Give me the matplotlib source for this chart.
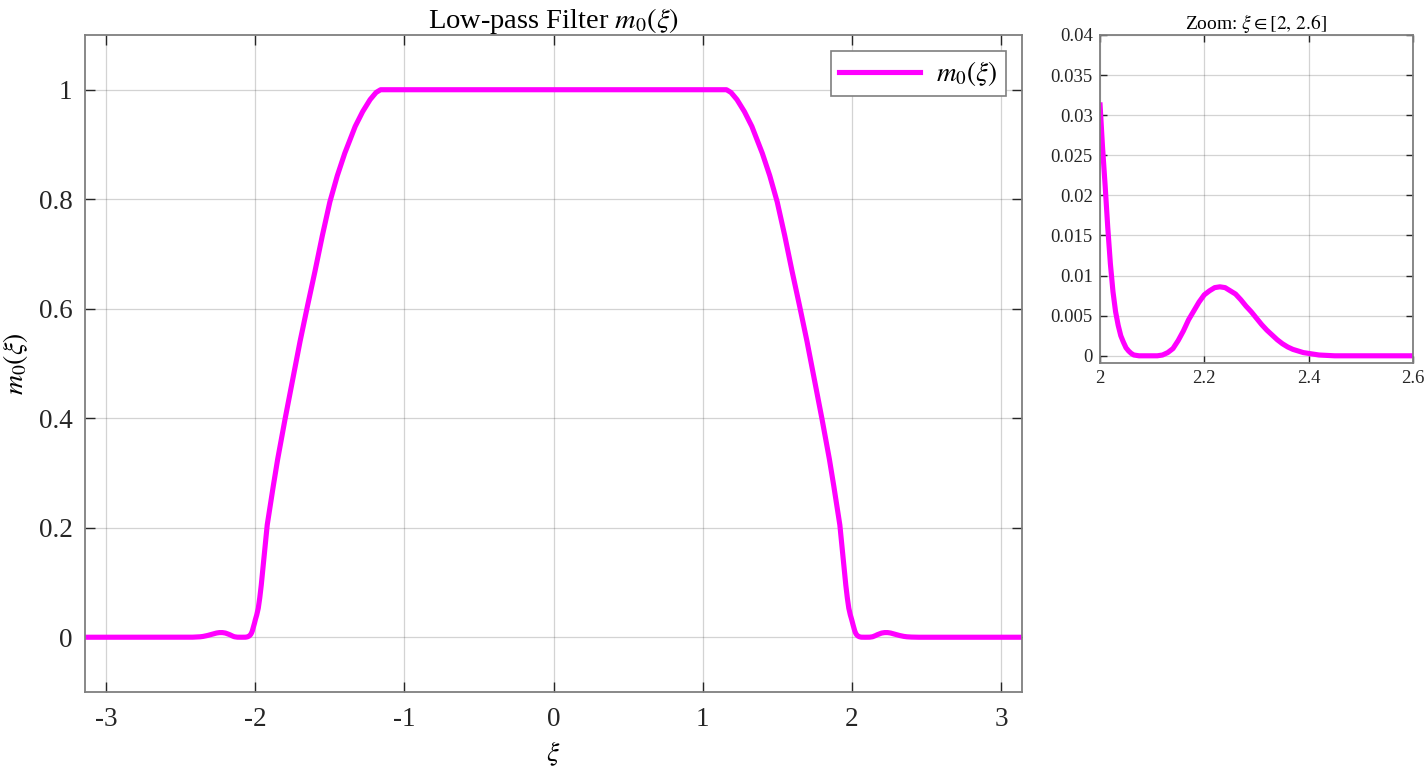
import matplotlib
matplotlib.use("Agg")
import matplotlib.pyplot as plt
import numpy as np

plt.rcParams['font.family'] = ['Liberation Serif', 'DejaVu Serif']
plt.rcParams['mathtext.fontset'] = 'stix'

# Values
xi = [-3.1416, -2.60, -2.45, -2.435, -2.42, -2.40, -2.39, -2.38, -2.37, -2.36, -2.35,
      -2.34, -2.33, -2.32, -2.31, -2.30, -2.29, -2.28, -2.27, -2.26, -2.25,
      -2.24, -2.23, -2.22, -2.21, -2.20, -2.19, -2.18, -2.17, -2.16, -2.15,
      -2.14, -2.13, -2.12, -2.11, -2.09, -2.075, -2.065, -2.06, -2.055, -2.05,
      -2.045, -2.04, -2.035, -2.03, -2.025, -2.02, -2.015, -2.01, -2.005, -2.00,
      -1.99, -1.98, -1.97, -1.96, -1.94, -1.92, -1.90, -1.88, -1.85, -1.80,
      -1.75, -1.70, -1.65, -1.60, -1.55, -1.50, -1.45, -1.40, -1.33, -1.28,
      -1.23, -1.19, -1.16, 0.0,
      1.16, 1.19, 1.23, 1.28, 1.33, 1.40, 1.45, 1.50, 1.55, 1.60,
      1.65, 1.70, 1.75, 1.80, 1.85, 1.88, 1.90, 1.92, 1.94, 1.96,
      1.97, 1.98, 1.99, 2.00, 2.005, 2.01, 2.015, 2.02, 2.025, 2.03,
      2.035, 2.04, 2.045, 2.05, 2.055, 2.06, 2.065, 2.075, 2.09, 2.11,
      2.12, 2.13, 2.14, 2.15, 2.16, 2.17, 2.18, 2.19, 2.20, 2.21,
      2.22, 2.23, 2.24, 2.25, 2.26, 2.27, 2.28, 2.29, 2.30, 2.31,
      2.32, 2.33, 2.34, 2.35, 2.36, 2.37, 2.38, 2.39, 2.40, 2.42,
      2.435, 2.45, 2.60, 3.1416]
m0 = [0.0, 0.0, 0.0, 0.00005, 0.0001, 0.0003, 0.0004, 0.0006, 0.0008, 0.0011, 0.0015,
      0.0020, 0.0026, 0.0032, 0.0039, 0.0047, 0.0055, 0.0062, 0.0070, 0.0077, 0.0081,
      0.0085, 0.0086, 0.0085, 0.0081, 0.0076, 0.0067, 0.0056, 0.0045, 0.0031, 0.0019,
      0.0009, 0.0004, 0.0001, 0.0, 0.0, 0.0, 0.0001, 0.0003, 0.0006, 0.001,
      0.0017, 0.0025, 0.0038, 0.0055, 0.008, 0.0115, 0.016, 0.0212, 0.026, 0.0316,
      0.041, 0.053, 0.072, 0.095, 0.150, 0.205, 0.240, 0.275, 0.325, 0.399,
      0.470, 0.540, 0.605, 0.668, 0.734, 0.795, 0.843, 0.884, 0.933, 0.960,
      0.982, 0.995, 1.0, 1.0,
      1.0, 0.995, 0.982, 0.960, 0.933, 0.884, 0.843, 0.795, 0.734, 0.668,
      0.605, 0.540, 0.470, 0.399, 0.325, 0.275, 0.240, 0.205, 0.150, 0.095,
      0.072, 0.053, 0.041, 0.0316, 0.026, 0.0212, 0.016, 0.0115, 0.008, 0.0055,
      0.0038, 0.0025, 0.0017, 0.001, 0.0006, 0.0003, 0.0001, 0.0, 0.0, 0.0,
      0.0001, 0.0004, 0.0009, 0.0019, 0.0031, 0.0045, 0.0056, 0.0067, 0.0076, 0.0081,
      0.0085, 0.0086, 0.0085, 0.0081, 0.0077, 0.0070, 0.0062, 0.0055, 0.0047, 0.0039,
      0.0032, 0.0026, 0.0020, 0.0015, 0.0011, 0.0008, 0.0006, 0.0004, 0.0003, 0.0001,
      0.00005, 0.0, 0.0, 0.0]

main_xticks = [-3, -2, -1, 0, 1, 2, 3]
main_xticklabels = ['-3', '-2', '-1', '0', '1', '2', '3']
main_yticks = [0, 0.2, 0.4, 0.6, 0.8, 1]
main_yticklabels = ['0', '0.2', '0.4', '0.6', '0.8', '1']
zoom_xticks = [2, 2.2, 2.4, 2.6]
zoom_xticklabels = ['2', '2.2', '2.4', '2.6']
zoom_yticks = [0, 0.005, 0.01, 0.015, 0.02, 0.025, 0.03, 0.035, 0.04]
zoom_yticklabels = ['0', '0.005', '0.01', '0.015', '0.02', '0.025', '0.03', '0.035', '0.04']

color = '#ff00ff'
spine_col = '#7f7f7f'

fig = plt.figure(figsize=(14.27, 7.67), dpi=100)
ax = fig.add_axes([0.0596, 0.0978, 0.6566, 0.8566])
axz = fig.add_axes([0.7708, 0.5267, 0.2193, 0.4277])


def style(a, fs):
    for s in a.spines.values():
        s.set_color(spine_col)
        s.set_linewidth(1.3)
    a.tick_params(direction='in', top=True, right=True, labelsize=fs,
                  colors='#262626', length=7, width=1.0, pad=9)
    a.grid(True, color='#262626', alpha=0.2, linewidth=0.9)
    a.set_axisbelow(True)


ax.plot(xi, m0, color=color, linewidth=3.7, label=r'$m_0(\xi)$',
        solid_joinstyle='round')
ax.set_xlim(-np.pi, np.pi)
ax.set_ylim(-0.1, 1.1)
ax.set_xticks(main_xticks)
ax.set_xticklabels(main_xticklabels)
ax.set_yticks(main_yticks)
ax.set_yticklabels(main_yticklabels)
style(ax, 19.5)
ax.tick_params(axis='x', pad=11)
ax.set_title(r'Low-pass Filter $m_0(\xi)$', fontsize=20.5, pad=5)
ax.set_xlabel(r'$\xi$', fontsize=20, labelpad=5)
ax.set_ylabel(r'$m_0(\xi)$', fontsize=20, labelpad=6)
leg = ax.legend(loc='upper right', fontsize=19.5, fancybox=False, framealpha=1,
                edgecolor=spine_col, handlelength=3.0, borderpad=0.3,
                handletextpad=0.6, borderaxespad=0.6)
leg.get_frame().set_linewidth(1.2)

# inset shows only the samples inside its window
xz = [x for x in xi if 2.0 <= x <= 2.6]
mz = [m for x, m in zip(xi, m0) if 2.0 <= x <= 2.6]
axz.plot(xz, mz, color=color, linewidth=3.7, solid_joinstyle='round',
         solid_capstyle='butt')
axz.set_xlim(2, 2.6)
axz.set_ylim(-0.0009, 0.04)
axz.set_xticks(zoom_xticks)
axz.set_xticklabels(zoom_xticklabels)
axz.set_yticks(zoom_yticks)
axz.set_yticklabels(zoom_yticklabels)
style(axz, 13.5)
axz.tick_params(length=5, pad=5)
axz.set_title(r'Zoom: $\xi \in [2,\, 2.6]$', fontsize=14, pad=4)

fig.savefig('out.png', dpi=100)
